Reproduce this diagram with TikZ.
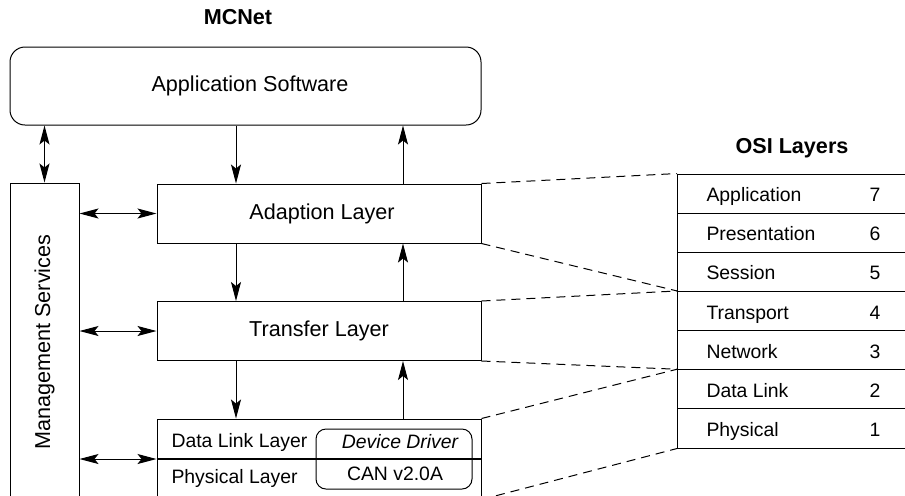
\documentclass[tikz,border=0pt]{standalone}
\usepackage{fontspec}
\setmainfont{Liberation Sans}
\usetikzlibrary{arrows.meta, positioning}

\begin{document}
\begin{tikzpicture}[
    x=0.5pt, y=-0.5pt,
    line width=0.5pt,
    every node/.style={font=\fontsize{10.8}{13}\selectfont},
    heading/.style={font=\fontsize{10.8}{13}\selectfont\bfseries},
    small/.style={font=\fontsize{9.7}{12}\selectfont, inner sep=0pt},
    layer/.style={rectangle, draw, minimum width=162pt, minimum height=29.5pt, inner sep=0pt},
    osirow/.style={rectangle, draw, anchor=west, minimum width=117.5pt, minimum height=19.57pt, inner sep=0pt},
    arr/.style={-{Stealth[length=9.5pt, width=5pt, inset=2pt]}},
    darr/.style={{Stealth[length=9.5pt, width=5pt, inset=2pt]}-{Stealth[length=9.5pt, width=5pt, inset=2pt]}},
    map/.style={dash pattern=on 4.5pt off 3pt}
  ]
  \useasboundingbox (0,0) rectangle (905,495);

  \node[heading] (mcnet) at (238,17) {MCNet};
  \node[heading] (osititle) at (792,148) {OSI Layers};

  \node[rectangle, draw, rounded corners=7.5pt, minimum width=235.5pt, minimum height=39pt] (app) at (245.5,86) {};
  \node (apptxt) at (250,86) {Application Software};
  \node[rectangle, draw, minimum width=34.5pt, minimum height=159pt] (mgmt) at (44.5,342) {};
  \node[rotate=90] (mgmttxt) at (mgmt.center) {Management Services};

  \node[layer] (adapt) at (319,213.5) {};
  \node (adapttxt) at (322,214) {Adaption Layer};
  \node[layer] (trans) at (319,331) {Transfer Layer};
  \node[layer, minimum height=40pt] (dl) at (319,459) {};
  \node[rectangle, draw, rounded corners=5pt, minimum width=78pt, minimum height=30pt] (drv) at (394,459) {};
  \draw[line width=1.2pt] (dl.west) -- (dl.east);

  \node[small, anchor=base west] (dltxt) at (171,447) {Data Link Layer};
  \node[small, anchor=base west] (phytxt) at (171,483) {Physical Layer};
  \node[small, anchor=base] (drvtxt) at (400,448) {\itshape Device Driver};
  \node[small, anchor=base] (cantxt) at (395,480) {CAN v2.0A};

  \coordinate (dn) at (236,0);
  \coordinate (up) at (403,0);
  \draw[arr] (app.south -| dn) -- (adapt.north -| dn);
  \draw[arr] (adapt.north -| up) -- (app.south -| up);
  \draw[arr] (adapt.south -| dn) -- (trans.north -| dn);
  \draw[arr] (trans.north -| up) -- (adapt.south -| up);
  \draw[arr] (trans.south -| dn) -- (dl.north -| dn);
  \draw[arr] (dl.north -| up) -- (trans.south -| up);

  \draw[darr] (app.south -| mgmt.north) -- (mgmt.north);
  \draw[darr] (mgmt.east |- adapt.west) -- (adapt.west);
  \draw[darr] (mgmt.east |- trans.west) -- (trans.west);
  \draw[darr] (mgmt.east |- dl.west) -- (dl.west);

  \foreach \lab/\num [count=\i from 0] in {Application/7, Presentation/6, Session/5, Transport/4, Network/3, Data Link/2, Physical/1} {
    \node[osirow] (osi\num) at (677,193.6+39.14*\i) {};
    \node[small, anchor=base west] at (706,201.6+39.14*\i) {\lab};
    \node[small, anchor=base] at (875,201.6+39.14*\i) {\num};
  }

  \draw[map] (adapt.north east) -- (osi7.north west);
  \draw[map] (adapt.south east) -- (osi4.north west);
  \draw[map] (trans.north east) -- (osi4.north west);
  \draw[map] (trans.south east) -- (osi2.north west);
  \draw[map] (dl.north east) -- (osi2.north west);
  \draw[map] (dl.south east) -- (osi1.south west);

\end{tikzpicture}
\end{document}
